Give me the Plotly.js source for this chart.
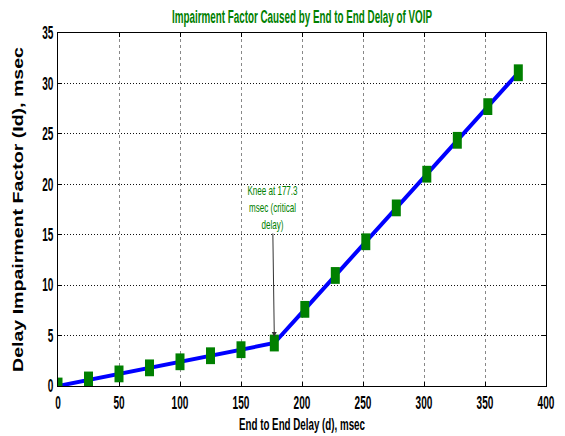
<!DOCTYPE html>
<html>
<head>
<meta charset="utf-8">
<script src="https://cdn.plot.ly/plotly-3.0.1.min.js"></script>
<style>html,body{margin:0;padding:0;background:#fff;}#chart{width:565px;height:436px;}</style>
</head>
<body>
<div id="chart"></div>
<script>
var delay = [0, 25, 50, 75, 100, 125, 150, 177.3, 202.3, 227.3, 252.3, 277.3, 302.3, 327.3, 352.3, 377.3];
var impairment = [0, 0.6, 1.2, 1.8, 2.4, 3.0, 3.6, 4.26, 7.6, 10.96, 14.3, 17.66, 21.0, 24.36, 27.7, 31.06];
var xTicks = [0, 50, 100, 150, 200, 250, 300, 350, 400];
var yTicks = [0, 5, 10, 15, 20, 25, 30, 35];
var kneeX = 177.3;
var kneeLabel = "Knee at 177.3<br>msec (critical<br>delay)";

var sans = "'Liberation Sans', Arial, sans-serif";

var lineTrace = {
  x: delay, y: impairment, type: 'scatter', mode: 'lines',
  line: {color: '#0000ff', width: 4}, showlegend: false
};
var markerTrace = {
  x: delay, y: impairment, type: 'scatter', mode: 'markers',
  marker: {symbol: 'line-ns-open', size: 12, color: '#008000', line: {width: 9, color: '#008000'}},
  showlegend: false
};

var layout = {
  width: 565, height: 436,
  margin: {l: 58, r: 19, t: 33, b: 50},
  paper_bgcolor: '#fff', plot_bgcolor: '#fff',
  title: {text: 'Impairment Factor Caused by End to End Delay of VOIP',
    font: {family: sans, size: 18, weight: 'bold', color: '#008000'}, x: 302 / 565, xanchor: 'center', y: 1 - 17 / 436, yanchor: 'middle'},
  xaxis: {range: [0, 400], tickvals: xTicks, ticktext: xTicks.map(String),
    showgrid: true, gridcolor: '#888', griddash: '3px,3px', gridwidth: 1,
    showline: true, linecolor: '#000', linewidth: 1, mirror: 'ticks', ticks: 'inside', ticklen: 4, tickcolor: '#000',
    zeroline: false, tickfont: {family: sans, size: 18, weight: 'bold', color: '#000'},
    title: {text: 'End to End Delay (d), msec', font: {family: sans, size: 17, weight: 'bold', color: '#000'}, standoff: 6}},
  yaxis: {range: [0, 35], tickvals: yTicks, ticktext: yTicks.map(String),
    showgrid: true, gridcolor: '#111', griddash: '1px,2px', gridwidth: 1,
    showline: true, linecolor: '#000', linewidth: 1, mirror: 'ticks', ticks: 'inside', ticklen: 4, tickcolor: '#000',
    zeroline: false, tickfont: {family: sans, size: 18, weight: 'bold', color: '#000'},
    title: {text: 'Delay Impairment Factor (Id), msec', font: {family: sans, size: 14, weight: 'bold', color: '#000'}, standoff: 6}},
  annotations: [{
    x: kneeX, y: 4.85, xref: 'x', yref: 'y',
    ax: kneeX - 1.5, ay: 17.7, axref: 'x', ayref: 'y',
    text: kneeLabel, showarrow: true, arrowhead: 2, arrowsize: 1, arrowwidth: 1, arrowcolor: '#333',
    font: {family: sans, size: 13, color: '#008000'}, align: 'center'
  }]
};

function fit(el, len, mode) {
  if (!el || !el.getComputedTextLength) return;
  el.setAttribute('textLength', len);
  el.setAttribute('lengthAdjust', mode || 'spacingAndGlyphs');
}
function squeeze(el, f) {
  if (!el || !el.getComputedTextLength) return;
  var lines = el.querySelectorAll('tspan.line');
  if (lines.length) {
    lines.forEach(function(t){ fit(t, t.getComputedTextLength() * f); });
  } else {
    fit(el, el.getComputedTextLength() * f);
  }
}

Plotly.newPlot('chart', [lineTrace, markerTrace], layout, {displayModeBar: false, staticPlot: true}).then(function(gd){
  gd.querySelectorAll('.xtick text, .ytick text').forEach(function(t){ squeeze(t, 0.56); });
  fit(gd.querySelector('.gtitle'), 260);
  fit(gd.querySelector('.xtitle'), 126);
  fit(gd.querySelector('.ytitle'), 325);
  gd.querySelectorAll('.annotation-text').forEach(function(t){ squeeze(t, 0.62); });
});
</script>
</body>
</html>
